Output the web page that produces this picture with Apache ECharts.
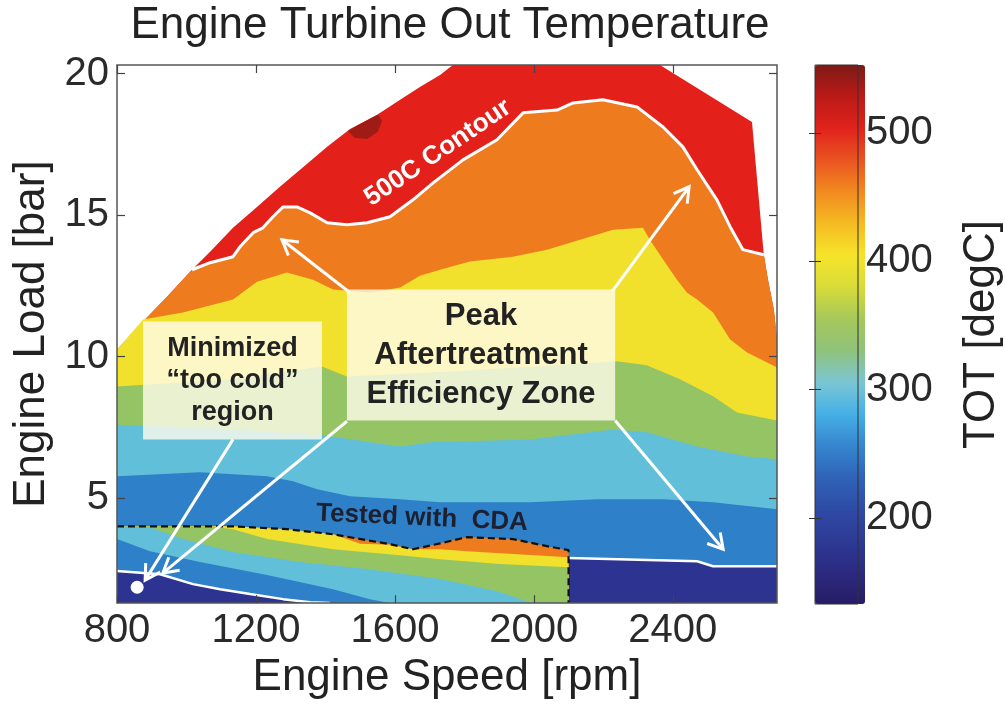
<!DOCTYPE html>
<html><head><meta charset="utf-8">
<script src="https://cdn.jsdelivr.net/npm/echarts@6.0.0/dist/echarts.min.js"></script>
<style>html,body{margin:0;padding:0;background:#fff}#c{width:1005px;height:705px}</style>
</head><body><div id="c"></div>
<script>
// ---- tick labels ----
const speedTicks = [800, 1200, 1600, 2000, 2400];
const loadTicks = [5, 10, 15, 20];
const totTicks = [200, 300, 400, 500];

// ---- contour boundaries [rpm, bar] ----
const envelope = [[800,10.25],[866,11.13],[944,12.12],[1016,13.07],[1068,13.71],[1134,14.55],[1203,15.29],[1269,16.0],[1327,16.6],[1405,17.41],[1471,18.04],[1549,18.54],[1615,19.07],[1672,19.52],[1730,19.95],[1767,20.3],[2363,20.3],[2628,18.29],[2662,13.6],[2674,12.72],[2691,11.66],[2700,10.6]];
const hotSpot = [[1465,17.97],[1500,18.22],[1528,18.4],[1551,18.54],[1563,18.33],[1551,17.94],[1520,17.69],[1485,17.73]];
const contour500 = [[1016,13.07],[1068,13.32],[1134,13.53],[1154,13.88],[1192,14.38],[1220,14.55],[1249,14.94],[1278,15.29],[1318,15.29],[1356,15.08],[1405,14.73],[1462,14.66],[1520,14.73],[1586,14.94],[1652,15.54],[1710,16.14],[1796,16.95],[1894,17.66],[1969,18.61],[2067,18.71],[2113,18.96],[2199,19.07],[2297,18.82],[2372,18.11],[2429,17.41],[2470,16.6],[2527,15.54],[2565,14.59],[2602,13.78],[2662,13.6]];
const orangeYellow = [[800,10.25],[875,11.31],[990,11.56],[1134,12.02],[1203,12.65],[1289,12.97],[1364,12.72],[1422,12.37],[1528,12.26],[1615,12.44],[1672,12.86],[1730,13.07],[1816,13.36],[1940,13.53],[2038,13.78],[2133,14.13],[2228,14.48],[2314,14.55],[2334,14.13],[2372,13.43],[2412,12.72],[2441,12.26],[2470,12.02],[2516,11.56],[2565,10.61],[2614,10.15],[2700,9.62]];
const yellowGreen = [[800,8.95],[1130,9.2],[1390,9.65],[1462,9.3],[1800,9.5],[2239,9.84],[2325,9.7],[2421,9.2],[2516,8.6],[2585,8.03],[2700,7.75]];
const greenCyan = [[800,7.6],[1130,7.45],[1413,7.19],[1615,6.83],[1701,6.98],[1989,7.08],[2228,7.43],[2325,7.33],[2470,6.83],[2614,6.48],[2700,6.38]];
const cyanBlue = [[800,5.78],[1039,5.92],[1232,5.78],[1307,5.6],[1376,5.32],[1471,5.07],[1615,4.97],[1730,4.86],[1989,4.86],[2182,4.97],[2372,4.97],[2516,4.86],[2700,4.61]];
const coldRight = [[2100,2.89],[2470,2.78],[2516,2.6],[2700,2.6]];
// CDA-tested region (below the dashed line)
const cdaTop = [[800,4.01],[1134,4.01],[1289,3.91],[1422,3.73],[1586,3.38],[1652,3.2],[1730,3.41],[1808,3.63],[1940,3.56],[2038,3.31],[2100,3.17]];
const cdaOrangeBottom = [[800,4.01],[1134,4.01],[1289,3.91],[1422,3.73],[1500,3.4],[1586,3.36],[1652,3.2],[1730,3.2],[1808,3.13],[1940,3.03],[2038,2.96],[2100,2.92]];
const cdaYellowBottom = [[800,4.01],[1068,4.01],[1134,3.91],[1232,3.56],[1422,3.2],[1615,2.99],[1730,2.85],[1903,2.68],[2100,2.57]];
const cdaGreenBottom = [[800,4.01],[895,3.98],[990,3.56],[1134,3.1],[1327,2.75],[1520,2.5],[1730,2.15],[1894,1.72],[1989,1.33],[2100,1.3]];
const cdaCyanBottom = [[800,3.56],[895,3.13],[1039,2.75],[1232,2.29],[1422,1.79],[1528,1.44],[1586,1.3],[2100,1.3]];
const coldLeft = [[800,2.43],[924,2.32],[1019,1.97],[1097,1.79],[1183,1.62],[1278,1.44],[1356,1.33],[1413,1.3]];
const coldPoint = [[858,1.86]];

// ---- annotations (data units) ----
const arrows = [
  [[1471,12.26],[1275,14.13]],
  [[2225,12.3],[2447,16.0]],
  [[2234,7.75],[2545,3.2]],
  [[1462,7.72],[932,2.36]],
  [[1134,7.08],[881,2.11]]
];
const boxes = [
  {corners: [[875,11.24],[1390,7.08]], text: 'Minimized\n\u201ctoo cold\u201d\nregion', size: 27, lh: 32},
  {corners: [[1462,12.37],[2234,7.75]], text: 'Peak\nAftertreatment\nEfficiency Zone', size: 31, lh: 39}
];

const FF = "'Liberation Sans', Arial, Helvetica, sans-serif";
const C = {
  darkred: '#9e1b16', red: '#e3201a', orange: '#ee7c1e', yellow: '#f2e12c',
  green: '#95c464', cyan: '#62bfd9', blue: '#2e80c8', navy: '#2c3391'
};
const jet = ['#271c64','#2b2a80','#2d3a95','#2e4ba6','#2f63b8','#3686cf','#45b0e6','#7cc6d4','#8fc27a','#a6c85a','#d8dc38','#f6e42a','#f5bb22','#f28a1f','#ea5420','#e1221c','#bb1a18','#7e1a16'];

function band(data, color) {
  return {type: 'line', data: data, symbol: 'none', silent: true, z: 2,
    lineStyle: {width: 0, opacity: 0}, areaStyle: {color: color, opacity: 1, origin: 'start'}};
}
function curve(data, color, width, type) {
  return {type: 'line', data: data, symbol: 'none', silent: true, z: 3,
    lineStyle: {width: width, color: color, type: type || 'solid'}};
}
const orangeOutline = envelope.filter(p => p[0] < contour500[0][0])
  .concat(contour500, envelope.filter(p => p[0] > contour500[contour500.length-1][0]));

const series = [
  band(envelope, C.red),
  {type: 'custom', silent: true, z: 2, data: [[1500, 18]],
   renderItem: (params, api) => ({type: 'polygon', shape: {points: hotSpot.map(p => api.coord(p))}, style: {fill: C.darkred}})},
  band(orangeOutline, C.orange),
  band(orangeYellow, C.yellow),
  band(yellowGreen, C.green),
  band(greenCyan, C.cyan),
  band(cyanBlue, C.blue),
  band(coldRight, C.navy),
  band(cdaTop, C.orange),
  band(cdaOrangeBottom, C.yellow),
  band(cdaYellowBottom, C.green),
  band(cdaGreenBottom, C.cyan),
  band(cdaCyanBottom, C.blue),
  band(coldLeft, C.navy),
  curve(contour500, '#ffffff', 3),
  curve(coldLeft, '#ffffff', 2.5),
  curve(coldRight, '#ffffff', 2.5),
  curve(cdaTop.concat([[2100, 1.3]]), '#111111', 2.2, [7, 4]),
  {type: 'scatter', data: coldPoint, symbolSize: 13, silent: true, z: 4, itemStyle: {color: '#ffffff', opacity: 1}},
  {type: 'scatter', data: [], xAxisIndex: 2, yAxisIndex: 2}
];

const tickStyle = {color: '#444', width: 1.2};
const plain = v => String(v);
const option = {
  animation: false,
  backgroundColor: '#ffffff',
  title: {text: 'Engine Turbine Out Temperature', left: 450, top: 4, textAlign: 'center', padding: 0,
    textStyle: {fontFamily: FF, fontSize: 44, fontWeight: 'normal', color: '#222'}},
  grid: [
    {left: 117, top: 65, width: 660, height: 539, show: true, borderColor: '#555', borderWidth: 1.5, backgroundColor: 'transparent', z: 10},
    {left: 815, top: 65, width: 50, height: 539, show: true, borderColor: '#333', borderWidth: 1, backgroundColor: 'transparent', z: 10}
  ],
  xAxis: [
    {type: 'value', gridIndex: 0, min: 800, max: 2700, position: 'bottom', z: 10,
     axisLine: {show: false}, splitLine: {show: false},
     axisTick: {inside: true, length: 8, customValues: speedTicks, lineStyle: tickStyle},
     axisLabel: {customValues: speedTicks, formatter: plain, fontSize: 40, fontFamily: FF, color: '#2a2a2a', margin: 8},
     name: 'Engine Speed [rpm]', nameLocation: 'middle', nameGap: 48,
     nameTextStyle: {fontSize: 44, fontFamily: FF, color: '#222'}},
    {type: 'value', gridIndex: 0, min: 800, max: 2700, position: 'top', z: 10,
     axisLine: {show: false}, splitLine: {show: false},
     axisTick: {inside: true, length: 8, customValues: speedTicks, lineStyle: tickStyle},
     axisLabel: {show: false}},
    {type: 'value', gridIndex: 1, min: 0, max: 1, show: false}
  ],
  yAxis: [
    {type: 'value', gridIndex: 0, min: 1.3, max: 20.3, position: 'left', z: 10,
     axisLine: {show: false}, splitLine: {show: false},
     axisTick: {inside: true, length: 8, customValues: loadTicks, lineStyle: tickStyle},
     axisLabel: {customValues: loadTicks, formatter: plain, fontSize: 40, fontFamily: FF, color: '#2a2a2a', margin: 8},
     name: 'Engine Load [bar]', nameLocation: 'middle', nameRotate: 90, nameGap: 57,
     nameTextStyle: {fontSize: 44, fontFamily: FF, color: '#222'}},
    {type: 'value', gridIndex: 0, min: 1.3, max: 20.3, position: 'right', z: 10,
     axisLine: {show: false}, splitLine: {show: false},
     axisTick: {inside: true, length: 8, customValues: loadTicks, lineStyle: tickStyle},
     axisLabel: {show: false}},
    {type: 'value', gridIndex: 1, min: 133, max: 553, position: 'right', z: 10,
     axisLine: {show: false}, splitLine: {show: false},
     axisTick: {inside: true, length: 6, customValues: totTicks, lineStyle: {color: '#333'}},
     axisLabel: {customValues: totTicks, formatter: plain, fontSize: 40, fontFamily: FF, color: '#2a2a2a', margin: 8},
     name: 'TOT [degC]', nameLocation: 'middle', nameRotate: 90, nameGap: 102,
     nameTextStyle: {fontSize: 44, fontFamily: FF, color: '#222'}},
    {type: 'value', gridIndex: 1, min: 133, max: 553, position: 'left', z: 10,
     axisLine: {show: false}, splitLine: {show: false},
     axisTick: {inside: true, length: 6, customValues: totTicks, lineStyle: {color: '#333'}},
     axisLabel: {show: false}}
  ],
  visualMap: {type: 'continuous', min: 133, max: 553, seriesIndex: series.length - 1,
    left: 815, top: 65, itemWidth: 50, itemHeight: 539, padding: 0, calculable: false,
    hoverLink: false, inRange: {color: jet}, z: 4},
  series: series
};

const chart = echarts.init(document.getElementById('c'), null, {renderer: 'canvas'});
chart.setOption(option);

const P = p => chart.convertToPixel({xAxisIndex: 0, yAxisIndex: 0}, p);
const els = [];
arrows.forEach(([s, t]) => {
  const a = P(s), b = P(t);
  const dx = b[0] - a[0], dy = b[1] - a[1], L = Math.hypot(dx, dy);
  const ux = dx / L, uy = dy / L, head = 17, ang = Math.PI / 6;
  const wing = sg => [b[0] - head * (ux * Math.cos(ang) - sg * uy * Math.sin(ang)),
                      b[1] - head * (uy * Math.cos(ang) + sg * ux * Math.sin(ang))];
  els.push({type: 'line', z: 20, silent: true, shape: {x1: a[0], y1: a[1], x2: b[0], y2: b[1]},
    style: {stroke: '#ffffff', lineWidth: 3}});
  els.push({type: 'polyline', z: 20, silent: true, shape: {points: [wing(1), b, wing(-1)]},
    style: {stroke: '#ffffff', lineWidth: 3, fill: null}});
});
boxes.forEach(bx => {
  const a = P(bx.corners[0]), b = P(bx.corners[1]);
  els.push({type: 'rect', z: 21, silent: true,
    shape: {x: a[0], y: a[1], width: b[0] - a[0], height: b[1] - a[1]},
    style: {fill: 'rgba(255,253,236,0.80)'}});
  els.push({type: 'text', z: 22, silent: true, x: (a[0] + b[0]) / 2, y: (a[1] + b[1]) / 2,
    style: {text: bx.text, fill: '#222222', font: 'bold ' + bx.size + 'px ' + FF,
      align: 'center', verticalAlign: 'middle', textAlign: 'center', textVerticalAlign: 'middle', lineHeight: bx.lh}});
});
const c5 = P([1724, 17.2]);
els.push({type: 'text', z: 22, silent: true, x: c5[0], y: c5[1], rotation: 34 * Math.PI / 180,
  style: {text: '500C Contour', fill: '#ffffff', font: 'bold 26px ' + FF,
    align: 'center', verticalAlign: 'middle', textAlign: 'center', textVerticalAlign: 'middle'}});
const cda = P([1678, 4.3]);
els.push({type: 'text', z: 22, silent: true, x: cda[0], y: cda[1], rotation: -2.6 * Math.PI / 180,
  style: {text: 'Tested with  CDA', fill: '#1c2030', font: 'bold 26px ' + FF,
    align: 'center', verticalAlign: 'middle', textAlign: 'center', textVerticalAlign: 'middle'}});
chart.setOption({graphic: {elements: els}});
</script></body></html>
